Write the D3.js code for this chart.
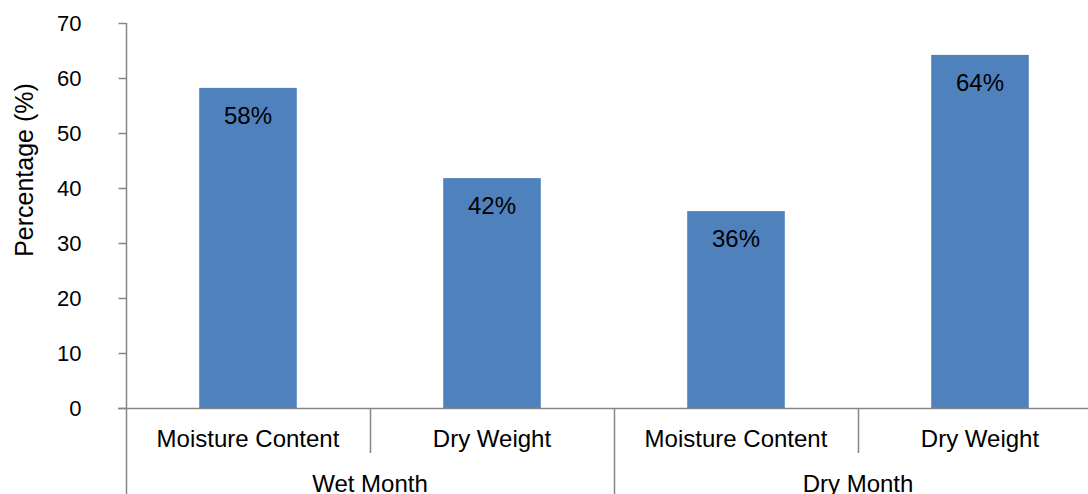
<!DOCTYPE html>
<html>
<head>
<meta charset="utf-8">
<script src="https://cdn.jsdelivr.net/npm/d3@7"></script>
<style>
  html, body { margin: 0; padding: 0; background: #fff; }
  svg { display: block; }
  text { font-family: "Liberation Sans", Arial, sans-serif; fill: #000; }
</style>
</head>
<body>
<svg id="chart" width="1088" height="494"></svg>
<script>
const categories = ["Moisture Content", "Dry Weight", "Moisture Content", "Dry Weight"];
const groups = ["Wet Month", "Dry Month"];
const values = [58.2, 41.8, 35.8, 64.2];
const valueLabels = ["58%", "42%", "36%", "64%"];
const yTicks = [0, 10, 20, 30, 40, 50, 60, 70];
const yTitle = "Percentage (%)";

(function () {
const W = 1088, H = 494;
const plotLeft = 126, plotRight = 1102, plotTop = 23, base = 408;
const svg = d3.select("#chart");
const axisColor = "#868686";
const barColor = "#4f81bd";

const idx = categories.map((c, i) => i);
const x = d3.scaleBand().domain(idx).range([plotLeft, plotRight]).paddingInner(0.6).paddingOuter(0.3);
const y = d3.scaleLinear().domain([0, 70]).range([base, plotTop]);

// bars
svg.append("g").selectAll("rect").data(values).join("rect")
  .attr("x", (d, i) => x(i))
  .attr("width", x.bandwidth())
  .attr("y", d => y(d))
  .attr("height", d => base - y(d))
  .attr("fill", barColor);

// value labels
svg.append("g").selectAll("text").data(values).join("text")
  .attr("x", (d, i) => x(i) + x.bandwidth() / 2)
  .attr("y", d => y(d) + 36)
  .attr("text-anchor", "middle")
  .style("font-size", "24px")
  .text((d, i) => valueLabels[i]);

// y axis
const yAxis = d3.axisLeft(y).tickValues(yTicks).tickSize(8).tickSizeOuter(0).tickPadding(37);
const gy = svg.append("g").attr("transform", `translate(${plotLeft + 0.5},0)`).call(yAxis);
gy.select(".domain").remove();
gy.selectAll(".tick line").attr("stroke", axisColor).attr("stroke-width", 1.5);
gy.selectAll(".tick text").style("font-size", "22px").style("font-family", "'Liberation Sans', Arial, sans-serif").attr("fill", "#000").attr("dy", "0.35em");

// vertical axis line (extends to bottom through category area)
svg.append("line").attr("x1", plotLeft + 0.5).attr("x2", plotLeft + 0.5).attr("y1", y(70)).attr("y2", H)
  .attr("stroke", axisColor).attr("stroke-width", 1.5);

// horizontal baseline
svg.append("line").attr("x1", plotLeft - 8).attr("x2", W).attr("y1", base + 0.5).attr("y2", base + 0.5)
  .attr("stroke", axisColor).attr("stroke-width", 1.5);

// category dividers
const step = x.step();
const boundaries = d3.range(1, categories.length + 1).map(i => plotLeft + i * step);
svg.append("g").selectAll("line").data(boundaries).join("line")
  .attr("x1", d => Math.round(d) + 0.5).attr("x2", d => Math.round(d) + 0.5)
  .attr("y1", base)
  .attr("y2", (d, i) => ((i + 1) % 2 === 0) ? H : 453)
  .attr("stroke", axisColor).attr("stroke-width", 1.5);

// category labels
svg.append("g").selectAll("text").data(categories).join("text")
  .attr("x", (d, i) => x(i) + x.bandwidth() / 2)
  .attr("y", 447)
  .attr("text-anchor", "middle")
  .style("font-size", "24px")
  .text(d => d);

// group labels
svg.append("g").selectAll("text").data(groups).join("text")
  .attr("x", (d, i) => plotLeft + (2 * i + 1) * step)
  .attr("y", 492)
  .attr("text-anchor", "middle")
  .style("font-size", "24px")
  .text(d => d);

// y title
svg.append("text")
  .attr("transform", `translate(33,170) rotate(-90)`)
  .attr("text-anchor", "middle")
  .style("font-size", "25px")
  .text(yTitle);
})();
</script>
</body>
</html>
